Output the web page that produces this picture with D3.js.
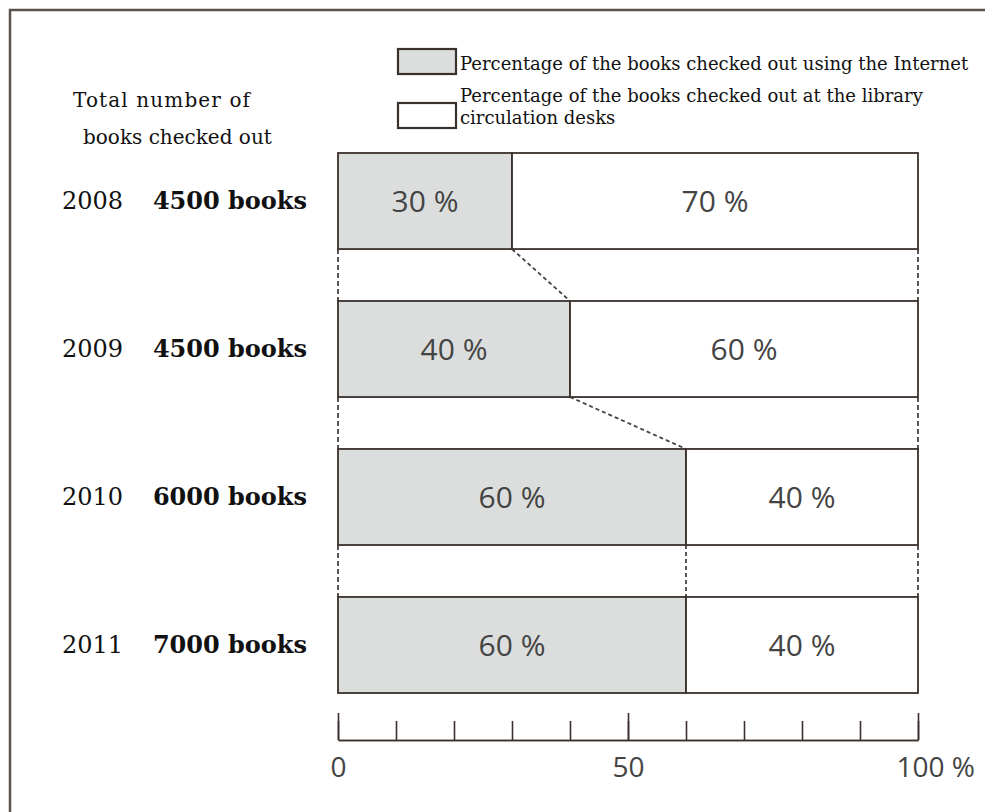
<!DOCTYPE html>
<html>
<head>
<meta charset="utf-8">
<script src="https://cdn.jsdelivr.net/npm/d3@7"></script>
<style>
  body { margin: 0; background: #fff; }
  svg { display: block; }
  .serif { font-family: "DejaVu Serif", serif; fill: #111; }
  .pct { font-family: "Open Sans", sans-serif; fill: #444; }
</style>
</head>
<body>
<svg width="985" height="812"></svg>
<script>
// chart data
var years = ["2008", "2009", "2010", "2011"];
var totalBooks = [4500, 4500, 6000, 7000];
var internetPct = [30, 40, 60, 60];
var deskPct = [70, 60, 40, 40];
var axisTicks = [0, 10, 20, 30, 40, 50, 60, 70, 80, 90, 100];
var axisLabels = [0, 50, 100];

var legendItems = [
  {fill: "#dcdedd", lines: ["Percentage of the books checked out using the Internet"]},
  {fill: "#ffffff", lines: ["Percentage of the books checked out at the library", "circulation desks"]}
];

var ink = "#3a302c";
var grey = "#dcdedd";

var svg = d3.select("svg");

// outer frame (left and top)
svg.append("path")
  .attr("d", "M10,812 L10,10 L985,10")
  .attr("fill", "none")
  .attr("stroke", "#5b5350")
  .attr("stroke-width", 2.5);

// scales
var x = d3.scaleLinear()
  .domain([0, 100])
  .range([338, 918]);

var y = d3.scaleBand()
  .domain(years)
  .range([153, 693])
  .paddingInner(0.351)
  .paddingOuter(0);

// rows of data
var rows = years.map(function(yr, i) {
  return {year: yr, total: totalBooks[i], net: internetPct[i], desk: deskPct[i]};
});

// dashed connectors between bars
var links = [];
for (var i = 0; i < rows.length - 1; i++) {
  var y0 = y(rows[i].year) + y.bandwidth();
  var y1 = y(rows[i + 1].year);
  links.push({x0: x(0), x1: x(0), y0: y0, y1: y1, dash: "5,3"});
  links.push({x0: x(100), x1: x(100), y0: y0, y1: y1, dash: "5,3"});
  links.push({x0: x(rows[i].net), x1: x(rows[i + 1].net), y0: y0, y1: y1, dash: "4,3"});
}

svg.append("g").selectAll("line")
  .data(links)
  .enter()
  .append("line")
  .attr("x1", function(d) { return d.x0; })
  .attr("x2", function(d) { return d.x1; })
  .attr("y1", function(d) { return d.y0; })
  .attr("y2", function(d) { return d.y1; })
  .attr("stroke", "#444")
  .attr("stroke-width", 1.8)
  .attr("stroke-dasharray", function(d) { return d.dash; });

// bars
var bar = svg.append("g").selectAll("g")
  .data(rows)
  .enter()
  .append("g");

bar.append("rect")
  .attr("x", x(0))
  .attr("y", function(d) { return y(d.year); })
  .attr("width", function(d) { return x(d.net) - x(0); })
  .attr("height", y.bandwidth())
  .attr("fill", grey)
  .attr("stroke", ink)
  .attr("stroke-width", 1.8);

bar.append("rect")
  .attr("x", function(d) { return x(d.net); })
  .attr("y", function(d) { return y(d.year); })
  .attr("width", function(d) { return x(d.net + d.desk) - x(d.net); })
  .attr("height", y.bandwidth())
  .attr("fill", "#fff")
  .attr("stroke", ink)
  .attr("stroke-width", 1.8);

// percentage labels
bar.append("text")
  .attr("class", "pct")
  .attr("x", function(d) { return (x(0) + x(d.net)) / 2; })
  .attr("y", function(d) { return y(d.year) + y.bandwidth() / 2 + 11; })
  .attr("text-anchor", "middle")
  .attr("font-size", 30)
  .text(function(d) { return d.net + " %"; });

bar.append("text")
  .attr("class", "pct")
  .attr("x", function(d) { return (x(d.net) + x(100)) / 2; })
  .attr("y", function(d) { return y(d.year) + y.bandwidth() / 2 + 11; })
  .attr("text-anchor", "middle")
  .attr("font-size", 30)
  .text(function(d) { return d.desk + " %"; });

// year and total labels
bar.append("text")
  .attr("class", "serif")
  .attr("x", 62)
  .attr("y", function(d) { return y(d.year) + y.bandwidth() / 2 + 8; })
  .attr("font-size", 24)
  .text(function(d) { return d.year; });

bar.append("text")
  .attr("class", "serif")
  .attr("x", 307)
  .attr("y", function(d) { return y(d.year) + y.bandwidth() / 2 + 8; })
  .attr("text-anchor", "end")
  .attr("font-size", 24)
  .attr("font-weight", "bold")
  .text(function(d) { return d.total + " books"; });

// left header
svg.append("text")
  .attr("class", "serif")
  .attr("x", 73)
  .attr("y", 107)
  .attr("font-size", 20)
  .attr("textLength", 177)
  .attr("lengthAdjust", "spacing")
  .text("Total number of");

svg.append("text")
  .attr("class", "serif")
  .attr("x", 83)
  .attr("y", 144)
  .attr("font-size", 20)
  .text("books checked out");

// legend
var legend = svg.append("g").selectAll("g")
  .data(legendItems)
  .enter()
  .append("g")
  .attr("transform", function(d, i) { return "translate(398," + (49 + i * 54) + ")"; });

legend.append("rect")
  .attr("width", 58)
  .attr("height", 25)
  .attr("fill", function(d) { return d.fill; })
  .attr("stroke", ink)
  .attr("stroke-width", 2.2);

legend.selectAll("text")
  .data(function(d) { return d.lines; })
  .enter()
  .append("text")
  .attr("class", "serif")
  .attr("x", 62)
  .attr("y", function(d, j, nodes) { return (nodes.length > 1 ? -1 : 21) + j * 22; })
  .attr("font-size", 18)
  .text(function(d) { return d; });

// axis
var axisG = svg.append("g")
  .attr("transform", "translate(0,740)");

var minorAxis = d3.axisBottom(x)
  .tickValues(axisTicks)
  .tickSizeInner(-19)
  .tickSizeOuter(0)
  .tickFormat("");

var majorAxis = d3.axisBottom(x)
  .tickValues(axisLabels)
  .tickSizeInner(-27)
  .tickSizeOuter(0)
  .tickPadding(17)
  .tickFormat(function(d) { return d === 100 ? "100 %" : d; });

axisG.append("g").call(minorAxis);
axisG.append("g").call(majorAxis);

axisG.selectAll("path, line")
  .attr("stroke", ink)
  .attr("stroke-width", 1.6);

axisG.selectAll("text")
  .attr("fill", "#444")
  .attr("font-family", "Open Sans, sans-serif")
  .attr("font-size", 28);

axisG.selectAll(".tick text")
  .filter(function(d) { return d === 100; })
  .attr("text-anchor", "start")
  .attr("x", -22);
</script>
</body>
</html>
